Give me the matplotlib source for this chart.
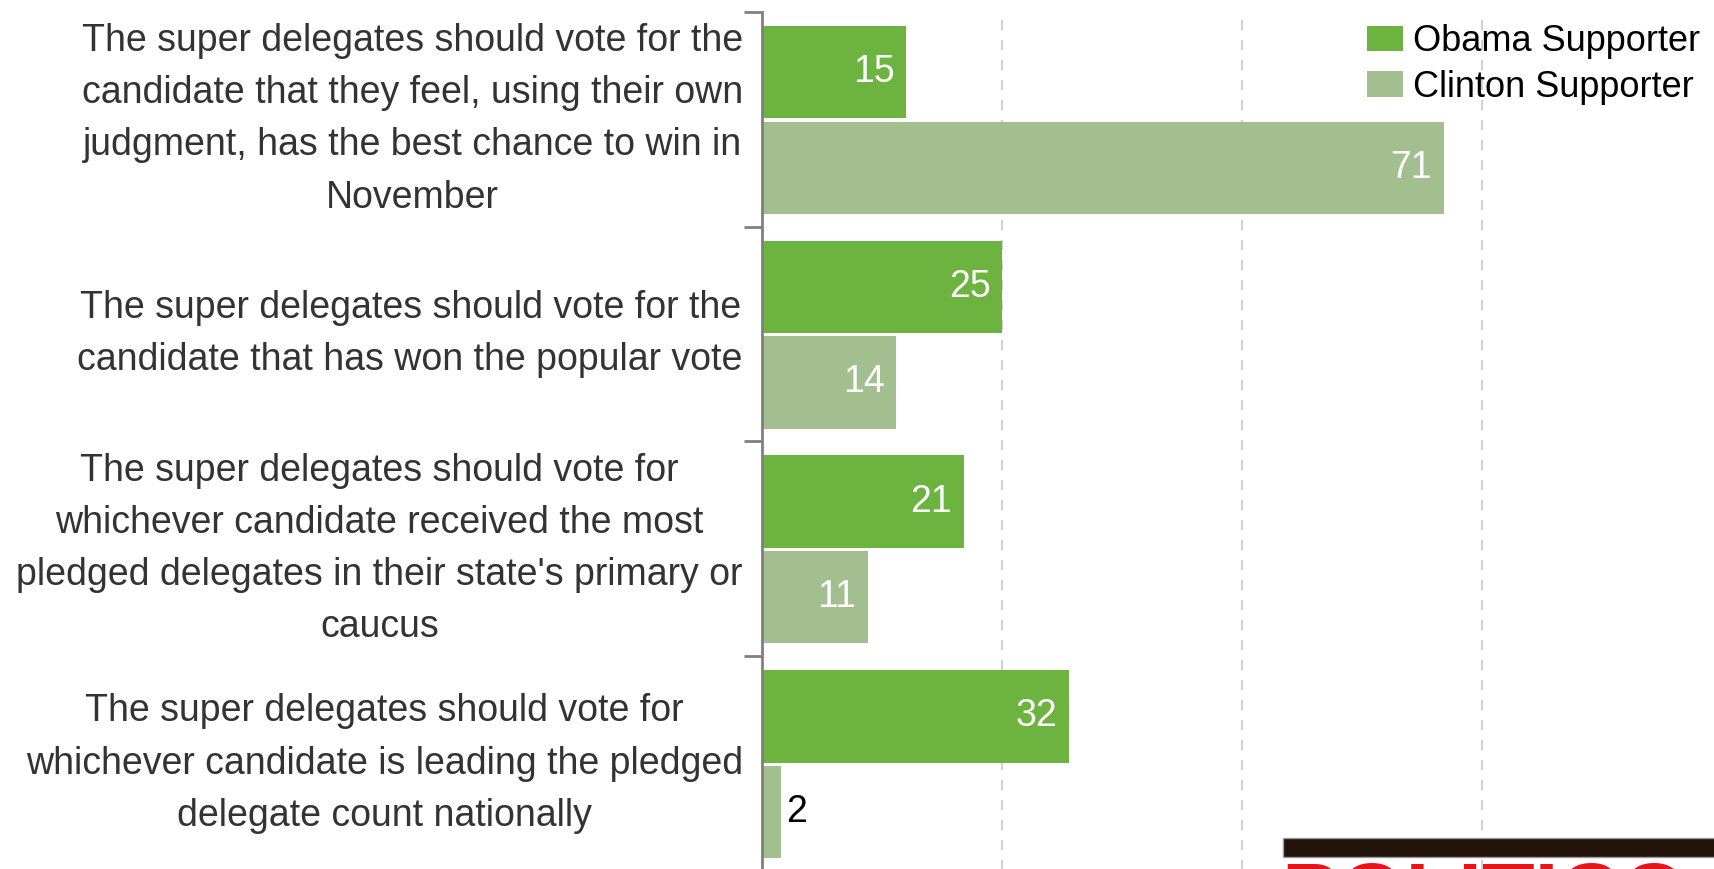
import matplotlib
matplotlib.use("Agg")
import matplotlib.pyplot as plt
from matplotlib.patches import Patch, Rectangle

# survey: what should super delegates do? (% of supporters)
questions = [
    "The super delegates should vote for the\ncandidate that they feel, using their own\n"
    "judgment, has the best chance to win in\nNovember",
    "The super delegates should vote for the\ncandidate that has won the popular vote",
    "The super delegates should vote for\nwhichever candidate received the most\n"
    "pledged delegates in their state's primary or\ncaucus",
    "The super delegates should vote for\nwhichever candidate is leading the pledged\n"
    "delegate count nationally",
]
obama = [15, 25, 21, 32]
clinton = [71, 14, 11, 2]
series_names = ["Obama Supporter", "Clinton Supporter"]

OBAMA_C = "#6db33f"
CLINTON_C = "#a3be8f"
TEXT_C = "#333333"

plt.rcParams["font.family"] = ["Liberation Sans", "DejaVu Sans"]

W, H = 1715, 869
fig = plt.figure(figsize=(W / 100, H / 100), dpi=100)
ax = fig.add_axes([762 / W, 1 - 871 / H, 960 / W, 859 / H])

n = len(questions)
centers = [i + 0.5 for i in range(n)]
bh = 0.43
y_ob = [c - 0.22 for c in centers]
y_cl = [c + 0.225 for c in centers]

ax.barh(y_ob, obama, height=bh, color=OBAMA_C, zorder=2)
ax.barh(y_cl, clinton, height=bh, color=CLINTON_C, zorder=2)

fs = 27
for y, v in zip(y_ob, obama):
    ax.text(v - 1.2, y, str(v), ha="right", va="center", color="white", fontsize=fs, zorder=3)
for y, v in zip(y_cl, clinton):
    if v >= 5:
        ax.text(v - 1.2, y, str(v), ha="right", va="center", color="white", fontsize=fs, zorder=3)
    else:
        # too short to hold its label
        ax.text(v + 0.5, y, str(v), ha="left", va="center", color="black", fontsize=fs, zorder=3)

ax.set_xlim(0, 100)
ax.set_ylim(n, 0)
ax.set_xticks([25, 50, 75])
ax.xaxis.grid(True, color="#c8c8c8", linestyle=(0, (6, 6)), lw=1.2, zorder=0)
ax.tick_params(axis="x", length=0, labelbottom=False)
ax.set_yticks(range(n))
ax.set_yticklabels([])
ax.tick_params(axis="y", length=13, width=2, color="#808080", direction="out")
for s in ["top", "right", "bottom"]:
    ax.spines[s].set_visible(False)
ax.spines["left"].set_color("#808080")
ax.spines["left"].set_linewidth(2)

# category labels, centred block right-aligned against the axis
for c, q in zip(centers, questions):
    ax.text(-2.0, c, q, ha="right", va="center", multialignment="center",
            fontsize=fs, color=TEXT_C, linespacing=1.58)

handles = [Patch(facecolor=OBAMA_C), Patch(facecolor=CLINTON_C)]
fig.legend(handles, series_names, loc="upper right", bbox_to_anchor=(1.01, 1.01),
           frameon=False, fontsize=26, handlelength=1.0, handleheight=0.7,
           handletextpad=0.25, labelspacing=0.3)

# politico logo peeking in at the bottom right
fig.patches.append(Rectangle((1283 / W, 1 - 857 / H), 1, 19 / H, transform=fig.transFigure,
                             facecolor="#22140c", edgecolor="#999999", lw=1))
fig.text(1281 / W, 1 - 861 / H, "POLITICO", color="#e8141c", fontsize=62,
         fontweight="bold", ha="left", va="top")

fig.savefig("out.png", dpi=100)
